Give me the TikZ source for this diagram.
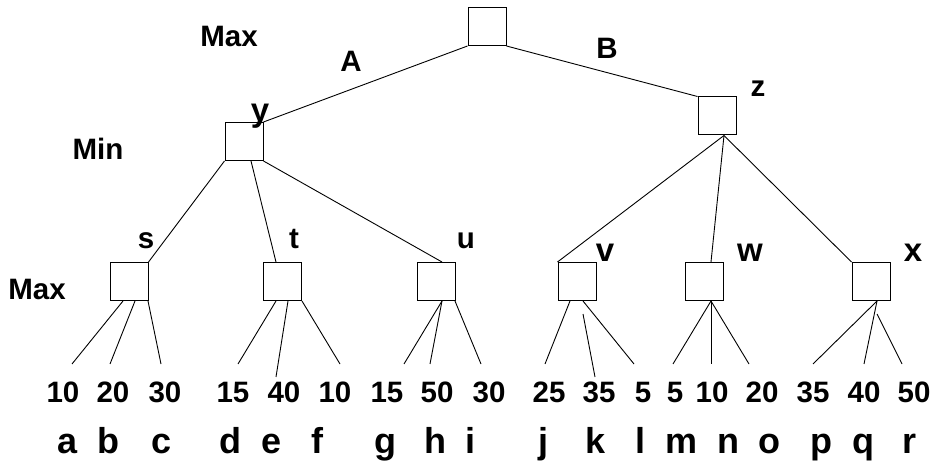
\documentclass[tikz,border=0pt]{standalone}
\usepackage{fontspec}
\setmainfont{Liberation Sans}
\tikzstyle{state}=[draw,minimum size=38pt,inner sep=0pt,line width=1pt]
\tikzstyle{edge} = [draw,line width=0.9pt]
\tikzstyle{tag} = [font=\bfseries\fontsize{29.5}{30}\selectfont,anchor=base,inner sep=0pt]
\tikzstyle{big tag} = [tag,font=\bfseries\fontsize{33}{34}\selectfont]
\tikzstyle{letter} = [tag,font=\bfseries\fontsize{36}{38}\selectfont]

\begin{document}
\begin{tikzpicture}[x=1pt,y=-1pt]
\useasboundingbox (0,0) rectangle (932,462);
\foreach \pos/\name in {{(487,26.5)/root}, {(244,141.5)/y}, {(717,116)/z},
                         {(129,281.5)/s}, {(282.5,281.5)/t}, {(436,281.5)/u},
                         {(577,281.5)/v}, {(704,281.5)/w}, {(871,281.5)/x}}{
  \node[state] (\name) at \pos {};
}
% level labels
\node[tag] (maxtop) at (229,47) {Max};
\node[tag] (min) at (98,160) {Min};
\node[tag] (maxbot) at (37,300) {Max};
\node[tag] (lA) at (351,72) {A};
\node[tag] (lB) at (607,59) {B};
\foreach \pos/\name in {{(758,97)/z}, {(146,249)/s}, {(294,249)/t}, {(466,249)/u}}{
  \node[tag] (l\name) at \pos {\name};
}
\foreach \pos/\name in {{(260,122)/y}, {(605,262)/v}, {(750,262)/w}, {(913,262)/x}}{
  \node[big tag] (l\name) at \pos {\name};
}
% tree edges
\path[edge] (root.south west) -- (y.north east);
\path[edge] (root.south east) -- (z.north west);
\path[edge] (y.south west) -- (s.north east);
\path[edge] ([xshift=7pt]y.south) -- ([xshift=-6.5pt]t.north);
\path[edge] (y.south east) -- ([xshift=6pt]u.north);
\path[edge] ([xshift=7pt]z.south) -- (v.north west);
\path[edge] ([xshift=7pt]z.south) -- ([xshift=7pt]w.north);
\path[edge] ([xshift=7pt]z.south) -- (x.north west);
% leaves
\foreach \name/\x/\val/\lx in {a/63/10/68, b/113/20/108, c/165/30/162, d/233/15/230,
                               e/284/40/272, f/335/10/317, g/387/15/385, h/437/50/435,
                               i/489/30/470, j/549/25/543, k/599/35/596, l/643/5/640,
                               m/675/5/681, n/712/10/728, o/762/20/769, p/813/35/821,
                               q/864/40/863, r/914/50/909}{
  \node[tag] (v\name) at (\x,402) {\val};
  \node[letter] (\name) at (\lx,453) {\name};
}
\foreach \src/\dx/\dy/\tip/\ex/\ey in {s/-6/0/a/72/364, s/6/0/b/110/364, s/19/0/c/161/364,
                                      t/-6.5/0/d/238/364, t/5.5/0/e/276/377, t/19.5/0/f/340/364,
                                      u/6/0/g/404/364, u/6/0/h/430/364, u/19/0/i/481/364,
                                      v/-7/0/j/545/364, v/6/-13/k/595/377, v/6/0/l/634/364,
                                      w/7/0/m/673/364, w/7/0/n/711/364, w/7/0/o/749/364,
                                      x/6/0/p/813/364, x/6/0/q/864/364, x/6/-13/r/902/364}{
  \coordinate (e\tip) at (\ex,\ey);
  \path[edge] ([shift={(\dx pt,\dy pt)}]\src.south) -- (e\tip);
}
\end{tikzpicture}
\end{document}
